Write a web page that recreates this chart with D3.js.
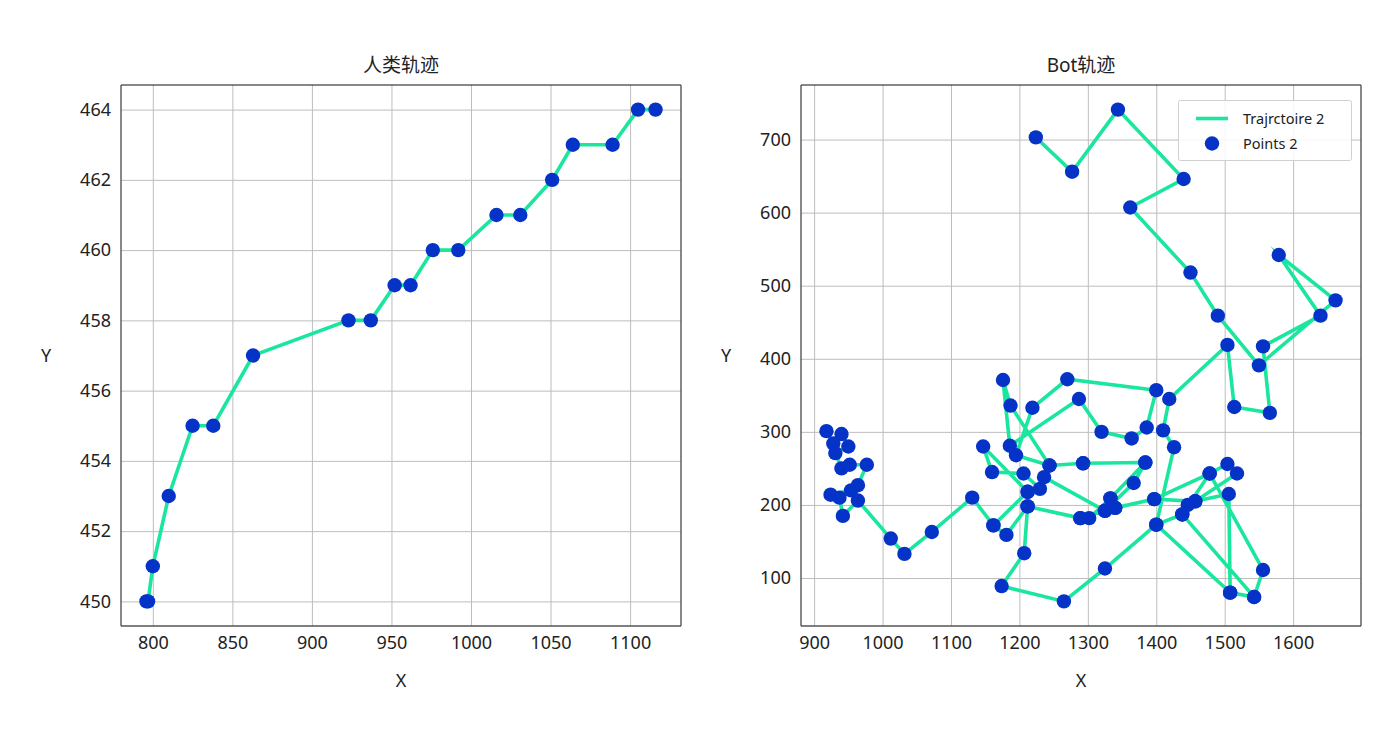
<!DOCTYPE html>
<html><head><meta charset="utf-8">
<script src="https://cdn.jsdelivr.net/npm/d3@7/dist/d3.min.js"></script>
<style>
body{margin:0;background:#fff}
svg{display:block}
text{font-family:"Noto Sans","Noto Sans CJK SC",sans-serif;fill:#222}
</style>
</head><body>
<svg id="chart" width="1400" height="747"></svg>
<script>
// ---------- data ----------
const humanTitle = "人类轨迹";
const botTitle = "Bot轨迹";
const humanX = [796, 797, 800, 810, 825, 838, 863, 923, 937, 952, 962, 976, 992, 1016, 1031, 1051, 1064, 1089, 1105, 1116];
const humanY = [450, 450, 451, 453, 455, 455, 457, 458, 458, 459, 459, 460, 460, 461, 461, 462, 463, 463, 464, 464];
const humanXTicks = [800, 850, 900, 950, 1000, 1050, 1100];
const humanYTicks = [450, 452, 454, 456, 458, 460, 462, 464];

const botX = [918, 928, 940, 950, 931, 940, 952, 977, 964, 954, 924, 937, 942, 964,
  1012, 1032, 1072, 1131, 1162, 1212, 1162, 1181, 1212, 1212, 1147, 1160, 1206, 1230, 1236,
  1325, 1289, 1325, 1367, 1384, 1293, 1244, 1187, 1176, 1186, 1287, 1320, 1364, 1386, 1400,
  1270, 1219, 1195, 1244, 1293, 1384, 1333, 1340, 1333, 1302, 1289, 1212, 1207, 1174, 1265,
  1325, 1400, 1438, 1446, 1457, 1518, 1504, 1478, 1438, 1543, 1556, 1478, 1397, 1340, 1397,
  1457, 1506, 1508, 1543, 1508, 1400, 1426, 1410, 1419, 1504, 1514, 1566, 1556, 1640, 1579,
  1662, 1550, 1490, 1450, 1362, 1440, 1344, 1277, 1224];
const botY = [301, 284, 297, 280, 271, 250, 255, 255, 227, 220, 214, 210, 185, 206,
  154, 133, 163, 210, 172, 218, 172, 159, 198, 218, 280, 245, 243, 222, 238,
  192, 182, 192, 230, 258, 257, 254, 336, 371, 281, 345, 300, 291, 306, 357,
  372, 333, 268, 254, 257, 258, 209, 196, 209, 182, 182, 198, 134, 89, 68,
  113, 173, 187, 200, 205, 243, 256, 243, 187, 74, 111, 243, 208, 196, 208,
  205, 215, 80, 74, 80, 173, 279, 302, 345, 419, 334, 326, 417, 459, 542,
  480, 391, 459, 518, 607, 646, 741, 656, 703];
const botXTicks = [900, 1000, 1100, 1200, 1300, 1400, 1500, 1600];
const botYTicks = [100, 200, 300, 400, 500, 600, 700];
const legendLabels = ["Trajrctoire 2", "Points 2"];

const lineColor = "#1ae69e";
const pointColor = "#0533c8";

// ---------- drawing ----------
const svg = d3.select("#chart");

function pad(ext) { const r = ext[1] - ext[0]; return [ext[0] - 0.05 * r, ext[1] + 0.05 * r]; }

function panel(cfg) {
  const {x0, x1, y0, y1} = cfg.frame;
  const xs = d3.scaleLinear().domain(pad(d3.extent(cfg.xs))).range([x0, x1]);
  const ys = d3.scaleLinear().domain(pad(d3.extent(cfg.ys))).range([y1, y0]);
  const g = svg.append("g");

  // grid
  const gx = g.append("g").attr("transform", `translate(0,${y1})`)
    .call(d3.axisBottom(xs).tickValues(cfg.xt).tickSize(-(y1 - y0)).tickFormat(""));
  const gy = g.append("g").attr("transform", `translate(${x0},0)`)
    .call(d3.axisLeft(ys).tickValues(cfg.yt).tickSize(-(x1 - x0)).tickFormat(""));
  [gx, gy].forEach(a => {
    a.select(".domain").remove();
    a.selectAll("line").attr("stroke", "#bdbdbd").attr("stroke-width", 1);
  });

  // tick labels
  const fmt = d3.format("d");
  const ax = g.append("g").attr("transform", `translate(0,${y1})`)
    .call(d3.axisBottom(xs).tickValues(cfg.xt).tickSize(0).tickPadding(10).tickFormat(fmt));
  const ay = g.append("g").attr("transform", `translate(${x0},0)`)
    .call(d3.axisLeft(ys).tickValues(cfg.yt).tickSize(0).tickPadding(10).tickFormat(fmt));
  [ax, ay].forEach(a => {
    a.select(".domain").remove();
    a.selectAll("text").attr("font-size", 18).attr("fill", "#222")
      .attr("font-family", '"Noto Sans", sans-serif');
  });

  // frame
  g.append("line").attr("x1", x0).attr("x2", x1).attr("y1", y0).attr("y2", y0).attr("stroke", "#111").attr("stroke-width", 1);
  g.append("line").attr("x1", x1).attr("x2", x1).attr("y1", y0).attr("y2", y1).attr("stroke", "#555").attr("stroke-width", 1.4);
  g.append("line").attr("x1", x0).attr("x2", x0).attr("y1", y0).attr("y2", y1).attr("stroke", "#555").attr("stroke-width", 1.4);
  g.append("line").attr("x1", x0).attr("x2", x1).attr("y1", y1).attr("y2", y1).attr("stroke", "#555").attr("stroke-width", 1.4);

  // data
  const pts = cfg.xs.map((v, i) => [v, cfg.ys[i]]);
  g.append("path").datum(pts)
    .attr("d", d3.line().x(d => xs(d[0])).y(d => ys(d[1])))
    .attr("fill", "none").attr("stroke", lineColor).attr("stroke-width", 3.6)
    .attr("stroke-linejoin", "miter").attr("stroke-miterlimit", 8);
  g.append("g").selectAll("circle").data(pts).join("circle")
    .attr("cx", d => xs(d[0])).attr("cy", d => ys(d[1])).attr("r", 7.2)
    .attr("fill", pointColor);

  // titles
  const cx = (x0 + x1) / 2;
  g.append("text").attr("x", cx).attr("y", 72).attr("text-anchor", "middle")
    .attr("font-size", 19).text(cfg.title);
  g.append("text").attr("x", cx).attr("y", 687).attr("text-anchor", "middle")
    .attr("font-size", 18).text("X");
  g.append("text").attr("x", cfg.ylabX).attr("y", 362).attr("text-anchor", "middle")
    .attr("font-size", 18).text("Y");
  return {g, xs, ys};
}

panel({frame: {x0: 121, x1: 681, y0: 85, y1: 626}, xs: humanX, ys: humanY,
  xt: humanXTicks, yt: humanYTicks, title: humanTitle, ylabX: 46});
panel({frame: {x0: 801, x1: 1361, y0: 85, y1: 626}, xs: botX, ys: botY,
  xt: botXTicks, yt: botYTicks, title: botTitle, ylabX: 726});

// legend
const lg = svg.append("g");
lg.append("rect").attr("x", 1178.5).attr("y", 100.5).attr("width", 173).attr("height", 60)
  .attr("rx", 2).attr("fill", "#fff").attr("fill-opacity", 0.85).attr("stroke", "#d0d0d0").attr("stroke-width", 1);
lg.append("line").attr("x1", 1196).attr("x2", 1228).attr("y1", 118.5).attr("y2", 118.5)
  .attr("stroke", lineColor).attr("stroke-width", 3.6);
lg.append("circle").attr("cx", 1212).attr("cy", 143.5).attr("r", 7.2).attr("fill", pointColor);
lg.selectAll("text.l").data(legendLabels).join("text").attr("class", "l")
  .attr("x", 1243).attr("y", (d, i) => 118.5 + i * 25 + 5).attr("font-size", 14.5).text(d => d);
</script>
</body></html>
